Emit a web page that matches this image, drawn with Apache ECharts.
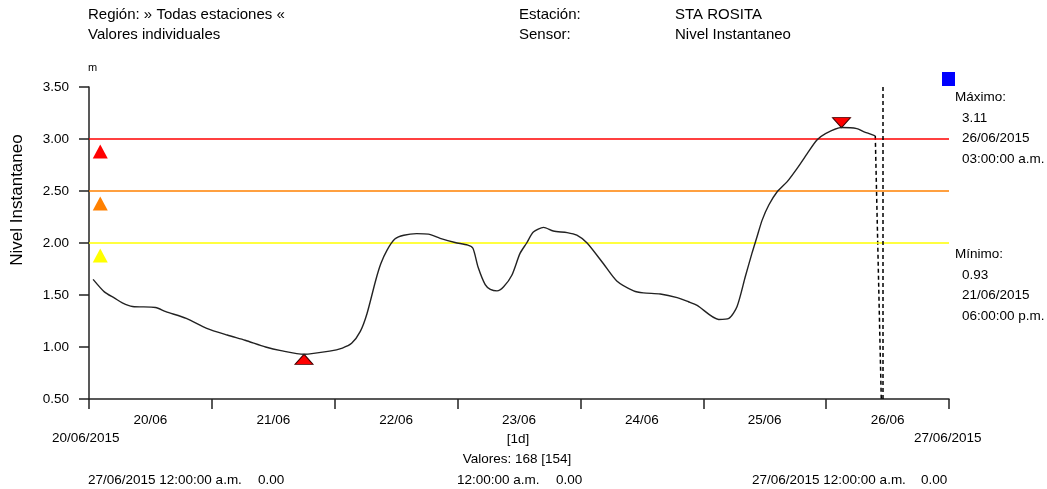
<!DOCTYPE html>
<html>
<head>
<meta charset="utf-8">
<script src="https://cdn.jsdelivr.net/npm/echarts@6/dist/echarts.min.js"></script>
<style>html,body{margin:0;padding:0;background:#fff;}#c{width:1047px;height:489px;}</style>
</head>
<body>
<div id="c"></div>
<script>
// ---- data ----
// hours since 20/06/2015 00:00
const hours = [0.8,3,5,6.5,8.5,13,15,19,23,27,30.5,34.5,37.5,42,47,49.5,51.3,53,54.3,56,57,58.2,59.8,61.5,64,66.3,68.6,71.5,74,75,76,77.4,78.4,79.7,81,82.6,84.2,85.5,86.8,88.8,90.7,93.4,95.3,97.3,100.5,103.1,106.4,108.3,111.6,114.9,117.1,118.8,123,125,126.6,128.2,129.5,130.5,131.5,132.8,134.4,136.4,138.3,140.3,142.2,143.8,147,150,151.3,153.6];
const levels = [1.65,1.53,1.47,1.425,1.39,1.38,1.34,1.275,1.18,1.115,1.065,1.0,0.965,0.93,0.96,0.99,1.035,1.15,1.32,1.64,1.80,1.93,2.04,2.075,2.09,2.085,2.045,2.005,1.98,1.95,1.77,1.60,1.555,1.54,1.58,1.69,1.90,2.0,2.105,2.15,2.115,2.10,2.075,2.0,1.80,1.635,1.54,1.52,1.51,1.475,1.435,1.40,1.265,1.275,1.39,1.675,1.90,2.06,2.22,2.365,2.49,2.59,2.715,2.86,2.99,3.05,3.11,3.10,3.07,3.03];
// dashed drop after last value towards 0.00 (end of data)
const gapHours = [153.6, 155];
const gapLevels = [3.03, 0.0];
const nowHour = 155;
const thresholds = [3.0, 2.5, 2.0];
const thresholdColors = ['#ff0000', '#ff8000', '#ffff00'];
const dayTicks = [0,24,48,72,96,120,144,168];
const dayLabelPos = [12,36,60,84,108,132,156];
const dayLabels = ['20/06','21/06','22/06','23/06','24/06','25/06','26/06'];
const yTicks = ['0.50','1.00','1.50','2.00','2.50','3.00','3.50'];
const maxInfo = ['Máximo:', '3.11', '26/06/2015', '03:00:00 a.m.'];
const minInfo = ['Mínimo:', '0.93', '21/06/2015', '06:00:00 p.m.'];

// ---- chart ----
const FONT = "'Liberation Sans', Arial, sans-serif";
const chart = echarts.init(document.getElementById('c'), null, {renderer: 'canvas'});

const mainData = hours.map((h, i) => [h, levels[i]]);
const gapData = gapHours.map((h, i) => [h, gapLevels[i]]);
let iMax = 0, iMin = 0;
levels.forEach((v, i) => { if (v > levels[iMax]) iMax = i; if (v < levels[iMin]) iMin = i; });

function txt(text, x, y, size, align, extra) {
  return Object.assign({
    type: 'text', x: x, y: y, silent: true,
    style: {text: text, font: size + 'px ' + FONT, fill: '#000', align: align || 'left', verticalAlign: 'middle'}
  }, extra || {});
}

const graphics = [
  txt('Región: » Todas estaciones «', 88, 15, 15),
  txt('Valores individuales', 88, 35, 15),
  txt('Estación:', 519, 15, 15),
  txt('Sensor:', 519, 35, 15),
  txt('STA ROSITA', 675, 15, 15),
  txt('Nivel Instantaneo', 675, 35, 15),
  txt('m', 88, 68, 11),
  txt('Nivel Instantaneo', 17, 200, 17, 'center', {rotation: Math.PI / 2}),
  txt('20/06/2015', 52, 438, 13.5),
  txt('27/06/2015', 914, 438, 13.5),
  txt('[1d]', 518, 439, 13.5, 'center'),
  txt('Valores: 168 [154]', 517, 459, 13.5, 'center'),
  txt('27/06/2015 12:00:00 a.m.', 88, 480, 13.5),
  txt('0.00', 258, 480, 13.5),
  txt('12:00:00 a.m.', 457, 480, 13.5),
  txt('0.00', 556, 480, 13.5),
  txt('27/06/2015 12:00:00 a.m.', 752, 480, 13.5),
  txt('0.00', 921, 480, 13.5),
  {type: 'rect', shape: {x: 942, y: 72, width: 13, height: 14}, style: {fill: '#0000ff'}, silent: true}
];
const infoY = [97, 118, 138.5, 159];
maxInfo.forEach((t, i) => graphics.push(txt(t, i === 0 ? 955 : 962, infoY[i], 13.5)));
minInfo.forEach((t, i) => graphics.push(txt(t, i === 0 ? 955 : 962, infoY[i] + 157, 13.5)));

const option = {
  animation: false,
  backgroundColor: '#fff',
  grid: {left: 89, right: 98, top: 87, bottom: 90, outerBoundsMode: 'none'},
  xAxis: {
    type: 'value', min: 0, max: 168, interval: 24,
    axisLine: {show: true, onZero: false, lineStyle: {color: '#222', width: 1.5}},
    axisTick: {show: true, length: 10, customValues: dayTicks, lineStyle: {color: '#222', width: 1.5}},
    axisLabel: {
      customValues: dayLabelPos, margin: 14, color: '#000', fontSize: 13.5, fontFamily: FONT,
      formatter: v => dayLabels[dayLabelPos.indexOf(v)] || ''
    },
    splitLine: {show: false}
  },
  yAxis: {
    type: 'value', min: 0.5, max: 3.5, interval: 0.5,
    axisLine: {show: true, lineStyle: {color: '#222', width: 1.5}},
    axisTick: {show: true, length: 10, lineStyle: {color: '#222', width: 1.5}},
    axisLabel: {margin: 20, color: '#000', fontSize: 13.5, fontFamily: FONT, formatter: v => yTicks[Math.round((v - 0.5) / 0.5)]},
    splitLine: {show: false}
  },
  graphic: graphics,
  series: [
    {
      type: 'line', name: 'thresholds', data: [], silent: true,
      markLine: {
        silent: true, symbol: 'none', label: {show: false},
        data: thresholds.map((t, i) => ({yAxis: t, lineStyle: {color: thresholdColors[i], width: 1.6, type: 'solid'}}))
      }
    },
    {
      type: 'line', name: 'Nivel Instantaneo', data: mainData, showSymbol: false, symbol: 'none',
      smooth: 0.25,
      lineStyle: {color: '#222', width: 1.4}, z: 5,
      markPoint: {
        silent: true, label: {show: false},
        data: [
          {coord: mainData[iMax], symbol: 'path://M0,0L2,0L1,1Z', symbolSize: [18, 10], symbolOffset: [0, -5],
           itemStyle: {color: '#ff0000', borderColor: '#400', borderWidth: 1}},
          {coord: mainData[iMin], symbol: 'path://M1,0L2,1L0,1Z', symbolSize: [18, 10], symbolOffset: [0, 5],
           itemStyle: {color: '#ff0000', borderColor: '#400', borderWidth: 1}}
        ]
      }
    },
    {
      type: 'line', name: 'gap', data: gapData, showSymbol: false, symbol: 'none', clip: true,
      lineStyle: {color: '#000', width: 1.5, type: [4, 3]}, z: 4,
      markLine: {
        silent: true, symbol: 'none', label: {show: false},
        data: [{xAxis: nowHour, lineStyle: {color: '#000', width: 1.5, type: [4, 3]}}]
      }
    },
    {
      type: 'scatter', name: 'limits', silent: true, symbol: 'triangle', symbolSize: [15, 14],
      data: thresholds.map((t, i) => ({value: [2.2, t - 0.12], itemStyle: {color: thresholdColors[i], opacity: 1}})),
      z: 6
    }
  ]
};
chart.setOption(option);
</script>
</body>
</html>
